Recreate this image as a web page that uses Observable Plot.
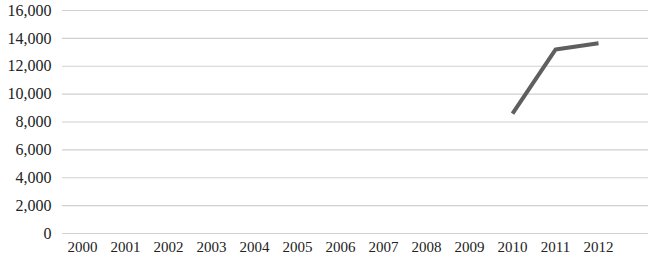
<!DOCTYPE html>
<html>
<head>
<meta charset="utf-8">
<script src="https://cdn.jsdelivr.net/npm/d3@7"></script>
<script src="https://cdn.jsdelivr.net/npm/@observablehq/plot@0.6"></script>
<style>
  html, body { margin: 0; padding: 0; background: #fff; }
  #chart svg { display: block; }
  #chart svg text { font-family: "Liberation Serif", "DejaVu Serif", serif; }
</style>
</head>
<body>
<div id="chart"></div>
<script>
const years = ["2000","2001","2002","2003","2004","2005","2006","2007","2008","2009","2010","2011","2012"];
const lineYears = ["2010","2011","2012"];
const lineValues = [8600, 13200, 13650];
const yTicks = [0, 2000, 4000, 6000, 8000, 10000, 12000, 14000, 16000];

const data = lineYears.map((y, i) => ({year: y, value: lineValues[i]}));

const chart = Plot.plot({
  width: 650,
  height: 257,
  marginTop: 10,
  marginBottom: 24,
  marginLeft: 62,
  marginRight: 2,
  style: {fontFamily: "Liberation Serif, serif", background: "#fff", color: "#222"},
  x: {type: "point", domain: years, range: [81, 598], padding: 0},
  y: {domain: [0, 16000]},
  marks: [
    Plot.ruleY(yTicks, {stroke: "#d0d0d0", strokeWidth: 1.2}),
    Plot.axisY(yTicks, {tickSize: 0, tickPadding: 11, fontSize: 16, fill: "#222", label: null, tickFormat: d3.format(",")}),
    Plot.axisX(years, {tickSize: 0, tickPadding: 8, fontSize: 15, fill: "#222", label: null}),
    Plot.line(data, {x: "year", y: "value", stroke: "#5f5f5f", strokeWidth: 4, strokeLinecap: "butt", strokeLinejoin: "round"})
  ]
});
document.getElementById("chart").appendChild(chart);
</script>
</body>
</html>
